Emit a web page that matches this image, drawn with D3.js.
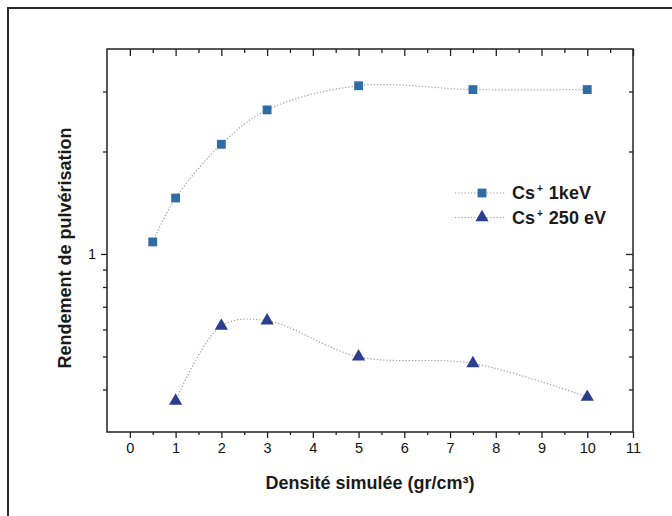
<!DOCTYPE html>
<html>
<head>
<meta charset="utf-8">
<script src="https://d3js.org/d3.v7.min.js"></script>
<style>
  body { margin: 0; background: #fff; }
  svg { display: block; font-family: "Liberation Sans", Arial, sans-serif; }
  .tick text { font-size: 14.5px; fill: #111; }
</style>
</head>
<body>
<div id="chart"></div>
<script>
// Data
const density = [0.5, 1, 2, 3, 5, 7.5, 10];
const yield1keV = [1.085, 1.46, 2.1, 2.65, 3.12, 3.04, 3.04];
const density250 = [1, 2, 3, 5, 7.5, 10];
const yield250eV = [0.37, 0.615, 0.637, 0.499, 0.477, 0.38];

const xTicks = d3.range(0, 12);
const xMinor = d3.range(0.5, 11, 1);
const yMajor = [1];
const yMinor = [0.4, 0.5, 0.6, 0.7, 0.8, 0.9, 2, 3];

const legendLabels = [["Cs", "+", " 1keV"], ["Cs", "+", " 250 eV"]];

const width = 672, height = 516;
const plot = { left: 107, right: 633, top: 49, bottom: 432 };

const svg = d3.select("#chart").append("svg")
    .attr("width", width)
    .attr("height", height);

// outer frame (cut off on right / bottom like the scan)
svg.append("rect")
    .attr("x", 8).attr("y", 8)
    .attr("width", 700).attr("height", 600)
    .attr("fill", "none")
    .attr("stroke", "#2a2a2a")
    .attr("stroke-width", 2);

const x = d3.scaleLinear().domain([-0.5, 11]).range([plot.left, plot.right]);
const y = d3.scaleLog().domain([0.3, 4]).range([plot.bottom, plot.top]);

// bottom axis
svg.append("g")
    .attr("transform", `translate(0,${plot.bottom})`)
    .call(d3.axisBottom(x).tickValues(xTicks).tickSize(6).tickPadding(5).tickFormat(d3.format("d")))
    .call(g => g.select(".domain").remove());
svg.append("g")
    .attr("transform", `translate(0,${plot.bottom})`)
    .call(d3.axisBottom(x).tickValues(xMinor).tickSize(3).tickFormat(""))
    .call(g => g.select(".domain").remove());

// top axis (ticks inside)
svg.append("g")
    .attr("transform", `translate(0,${plot.top})`)
    .call(d3.axisBottom(x).tickValues(xTicks).tickSize(7).tickFormat(""))
    .call(g => g.select(".domain").remove());
svg.append("g")
    .attr("transform", `translate(0,${plot.top})`)
    .call(d3.axisBottom(x).tickValues(xMinor).tickSize(4).tickFormat(""))
    .call(g => g.select(".domain").remove());

// left axis
svg.append("g")
    .attr("transform", `translate(${plot.left},0)`)
    .call(d3.axisLeft(y).tickValues(yMajor).tickSize(6).tickPadding(5).tickFormat(d3.format("d")))
    .call(g => g.select(".domain").remove());
svg.append("g")
    .attr("transform", `translate(${plot.left},0)`)
    .call(d3.axisLeft(y).tickValues(yMinor).tickSize(4).tickFormat(""))
    .call(g => g.select(".domain").remove());

// right axis (ticks inside)
svg.append("g")
    .attr("transform", `translate(${plot.right},0)`)
    .call(d3.axisLeft(y).tickValues(yMajor).tickSize(7).tickFormat(""))
    .call(g => g.select(".domain").remove());
svg.append("g")
    .attr("transform", `translate(${plot.right},0)`)
    .call(d3.axisLeft(y).tickValues(yMinor).tickSize(4).tickFormat(""))
    .call(g => g.select(".domain").remove());

svg.selectAll(".tick line").attr("stroke", "#222").attr("stroke-width", 1.3);

// plot frame
svg.append("rect")
    .attr("x", plot.left).attr("y", plot.top)
    .attr("width", plot.right - plot.left).attr("height", plot.bottom - plot.top)
    .attr("fill", "none")
    .attr("stroke", "#222")
    .attr("stroke-width", 1.5);

// axis titles
svg.append("text")
    .attr("x", 370).attr("y", 489)
    .attr("text-anchor", "middle")
    .attr("font-size", 18).attr("font-weight", "bold").attr("fill", "#1a1a1a")
    .text("Densité simulée (gr/cm³)");

svg.append("text")
    .attr("transform", "rotate(-90)")
    .attr("x", -248).attr("y", 71)
    .attr("text-anchor", "middle")
    .attr("font-size", 18).attr("font-weight", "bold").attr("fill", "#1a1a1a")
    .text("Rendement de pulvérisation");

// curves
const line = d3.line()
    .x(d => x(d[0]))
    .y(d => y(d[1]))
    .curve(d3.curveCatmullRom.alpha(0.5));

const s1 = density.map((d, i) => [d, yield1keV[i]]);
const s2 = density250.map((d, i) => [d, yield250eV[i]]);

[s1, s2].forEach(s => {
    svg.append("path")
        .datum(s)
        .attr("d", line)
        .attr("fill", "none")
        .attr("stroke", "#9a9a9a")
        .attr("stroke-width", 1.2)
        .attr("stroke-dasharray", "1.2,2");
});

const sqColor = "#2f6da6";
const triColor = "#2b3f8e";
const square = d3.symbol().type(d3.symbolSquare).size(78);
const triangle = d3.symbol().type(d3.symbolTriangle).size(76);

svg.selectAll(".sq")
    .data(s1).enter().append("path")
    .attr("class", "sq")
    .attr("transform", d => `translate(${x(d[0])},${y(d[1])})`)
    .attr("d", square)
    .attr("fill", sqColor);

svg.selectAll(".tri")
    .data(s2).enter().append("path")
    .attr("class", "tri")
    .attr("transform", d => `translate(${x(d[0])},${y(d[1])})`)
    .attr("d", triangle)
    .attr("fill", triColor);

// legend
const legend = svg.append("g").attr("transform", "translate(455,193)");
legendLabels.forEach((lab, i) => {
    const g = legend.append("g").attr("transform", `translate(0,${i * 24.5})`);
    g.append("line")
        .attr("x1", 0).attr("x2", 50)
        .attr("stroke", "#9a9a9a").attr("stroke-width", 1.2)
        .attr("stroke-dasharray", "1.2,2");
    g.append("path")
        .attr("transform", "translate(27,0)")
        .attr("d", i === 0 ? square : triangle)
        .attr("fill", i === 0 ? sqColor : triColor);
    const t = g.append("text")
        .attr("x", 57).attr("y", 6)
        .attr("font-size", 18).attr("font-weight", "bold").attr("fill", "#1a1a1a");
    t.append("tspan").text(lab[0]);
    t.append("tspan").attr("dy", -7).attr("dx", 2).attr("font-size", 10).text(lab[1]);
    t.append("tspan").attr("dy", 7).attr("dx", 1).text(lab[2]);
});
</script>
</body>
</html>
